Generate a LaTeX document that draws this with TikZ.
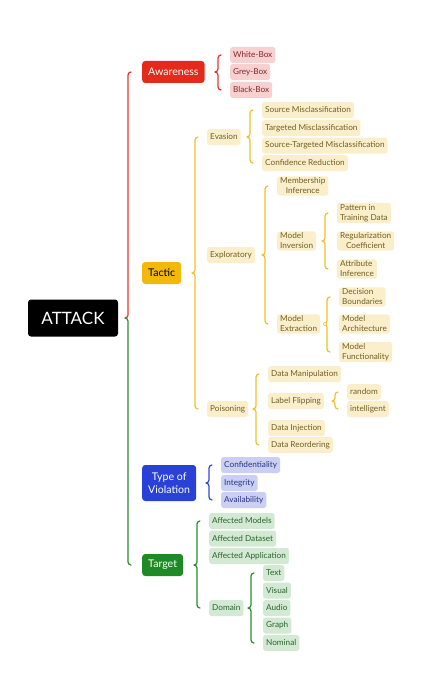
\documentclass[tikz,border=0pt]{standalone}
\usepackage{fontspec}
\setmainfont{Lato}
\usetikzlibrary{calc}
\definecolor{cRed}{HTML}{E42A1D}
\definecolor{cYel}{HTML}{F3B80C}
\definecolor{cBlu}{HTML}{2A41D8}
\definecolor{cGrn}{HTML}{1D8A25}
\definecolor{bRed}{HTML}{E8352B}
\definecolor{bYel}{HTML}{F2BF2A}
\definecolor{bBlu}{HTML}{3048D4}
\definecolor{bGrn}{HTML}{2A8C30}
\definecolor{fPink}{HTML}{F7D0D0}
\definecolor{tPink}{HTML}{84292B}
\definecolor{fYel}{HTML}{FBEFCB}
\definecolor{tYel}{HTML}{6F5F24}
\definecolor{fBlu}{HTML}{CACFF3}
\definecolor{tBlu}{HTML}{283585}
\definecolor{fGrn}{HTML}{D3E9D3}
\definecolor{tGrn}{HTML}{2A632D}
\tikzset{
  base/.style={anchor=west, rounded corners=2.5pt, inner xsep=3pt, inner ysep=1.5pt,
    font=\fontsize{8.2}{10}\selectfont, minimum height=16pt},
  leafR/.style={base, fill=fPink, text=tPink},
  leafY/.style={base, fill=fYel, text=tYel},
  leafB/.style={base, fill=fBlu, text=tBlu},
  leafG/.style={base, fill=fGrn, text=tGrn},
  lonebox/.style={anchor=west, rounded corners=3pt, inner xsep=6pt, minimum height=22pt,
    font=\fontsize{10.6}{12.5}\selectfont},
  rootbox/.style={fill=black, text=white, rounded corners=3pt, minimum width=90pt,
    minimum height=37pt, font=\fontsize{17}{19}\selectfont},
  brc/.style={line width=1.2pt, line cap=round, line join=round},
}
\newcommand\brc[4]{%
  \draw[brc,#1] let \p1=(#2.east), \p2=(#3.west), \p3=(#4.west) in
    ({\x2-9pt},\y2) to[out=180,in=90] ({\x2-12pt},{\y2-3pt}) -- ({\x2-12pt},{\y1+3pt})
    to[out=-90,in=0] ({\x2-15pt},\y1) to[out=0,in=90] ({\x2-12pt},{\y1-3pt})
    -- ({\x2-12pt},{\y3+3pt}) to[out=-90,in=180] ({\x2-9pt},\y3);}
\begin{document}
\begin{tikzpicture}[x=1pt,y=-1pt]
\useasboundingbox (0,0) rectangle (424,698);
% root and level 1
\node[rootbox] (attack) at (73,318) {ATTACK};
\node[lonebox, fill=cRed, text=white] (aware) at (142,72) {Awareness};
\node[lonebox, fill=cYel, text=black] (tactic) at (142,273) {Tactic};
\node[lonebox, fill=cBlu, text=white, align=center, minimum height=36pt] (tov) at (142,483) {Type of\\Violation};
\node[lonebox, fill=cGrn, text=white] (target) at (142,565) {Target};
% main brace
\draw[brc,bRed] let \p1=(attack.east), \p2=(aware.west) in
  ({\x2-11pt},\y2) to[out=180,in=90] ({\x2-14pt},{\y2-3pt}) -- ({\x2-14pt},{\y1+3pt})
  to[out=-90,in=0] ({\x2-17pt},\y1);
\draw[brc,bGrn] let \p1=(attack.east), \p3=(target.west) in
  ({\x3-17pt},\y1) to[out=0,in=90] ({\x3-14pt},{\y1-3pt}) -- ({\x3-14pt},{\y3+3pt})
  to[out=-90,in=180] ({\x3-11pt},\y3);
% awareness
\node[leafR] (wb) at (230,55) {White-Box};
\node[leafR] (gb) at (230,72) {Grey-Box};
\node[leafR] (bb) at (230,90) {Black-Box};
\brc{bRed}{aware}{wb}{bb}
% tactic
\node[leafY] (eva) at (207,137) {Evasion};
\node[leafY] (expl) at (207,255) {Exploratory};
\node[leafY] (pois) at (207,409) {Poisoning};
\brc{bYel}{tactic}{eva}{pois}
\node[leafY] (sm) at (262,110) {Source Misclassification};
\node[leafY] (tm) at (262,128) {Targeted Misclassification};
\node[leafY] (stm) at (262,145.5) {Source-Targeted Misclassification};
\node[leafY] (cr) at (262,163) {Confidence Reduction};
\brc{bYel}{eva}{sm}{cr}
\node[leafY, align=center] (mi) at (277,186) {Membership\\Inference};
\node[leafY, align=left] (minv) at (277,241) {Model\\Inversion};
\node[leafY, align=left] (mext) at (277,324) {Model\\Extraction};
\brc{bYel}{expl}{mi}{mext}
\node[leafY, align=left] (ptd) at (337,213) {Pattern in\\Training Data};
\node[leafY, align=center] (rc) at (337,241) {Regularization\\Coefficient};
\node[leafY, align=left] (ai) at (337,269) {Attribute\\Inference};
\brc{bYel}{minv}{ptd}{ai}
\node[leafY, align=left] (db) at (339,297) {Decision\\Boundaries};
\node[leafY, align=left] (ma) at (339,324) {Model\\Architecture};
\node[leafY, align=left] (mf) at (339,352) {Model\\Functionality};
\brc{bYel}{mext}{db}{mf}
\node[circle, draw=bYel, line width=0.6pt, fill=white, inner sep=0pt, minimum size=3.5pt] (mextdot) at (325,324) {};
\node[leafY] (dm) at (268,374) {Data Manipulation};
\node[leafY] (lf) at (268,401) {Label Flipping};
\node[leafY] (di) at (268,428) {Data Injection};
\node[leafY] (dr) at (268,445) {Data Reordering};
\brc{bYel}{pois}{dm}{dr}
\node[leafY] (rnd) at (347,392) {random};
\node[leafY] (intl) at (347,409) {intelligent};
\brc{bYel}{lf}{rnd}{intl}
% type of violation
\node[leafB] (conf) at (221,465) {Confidentiality};
\node[leafB] (integ) at (221,483) {Integrity};
\node[leafB] (avail) at (221,500) {Availability};
\brc{bBlu}{tov}{conf}{avail}
% target
\node[leafG] (am) at (209,521) {Affected Models};
\node[leafG] (ad) at (209,538.5) {Affected Dataset};
\node[leafG] (aa) at (209,556) {Affected Application};
\node[leafG] (dom) at (209,608) {Domain};
\brc{bGrn}{target}{am}{dom}
\node[leafG] (txt) at (263,573) {Text};
\node[leafG] (vis) at (263,590.5) {Visual};
\node[leafG] (aud) at (263,608) {Audio};
\node[leafG] (gra) at (263,625.5) {Graph};
\node[leafG] (nom) at (263,643) {Nominal};
\brc{bGrn}{dom}{txt}{nom}
\end{tikzpicture}
\end{document}
